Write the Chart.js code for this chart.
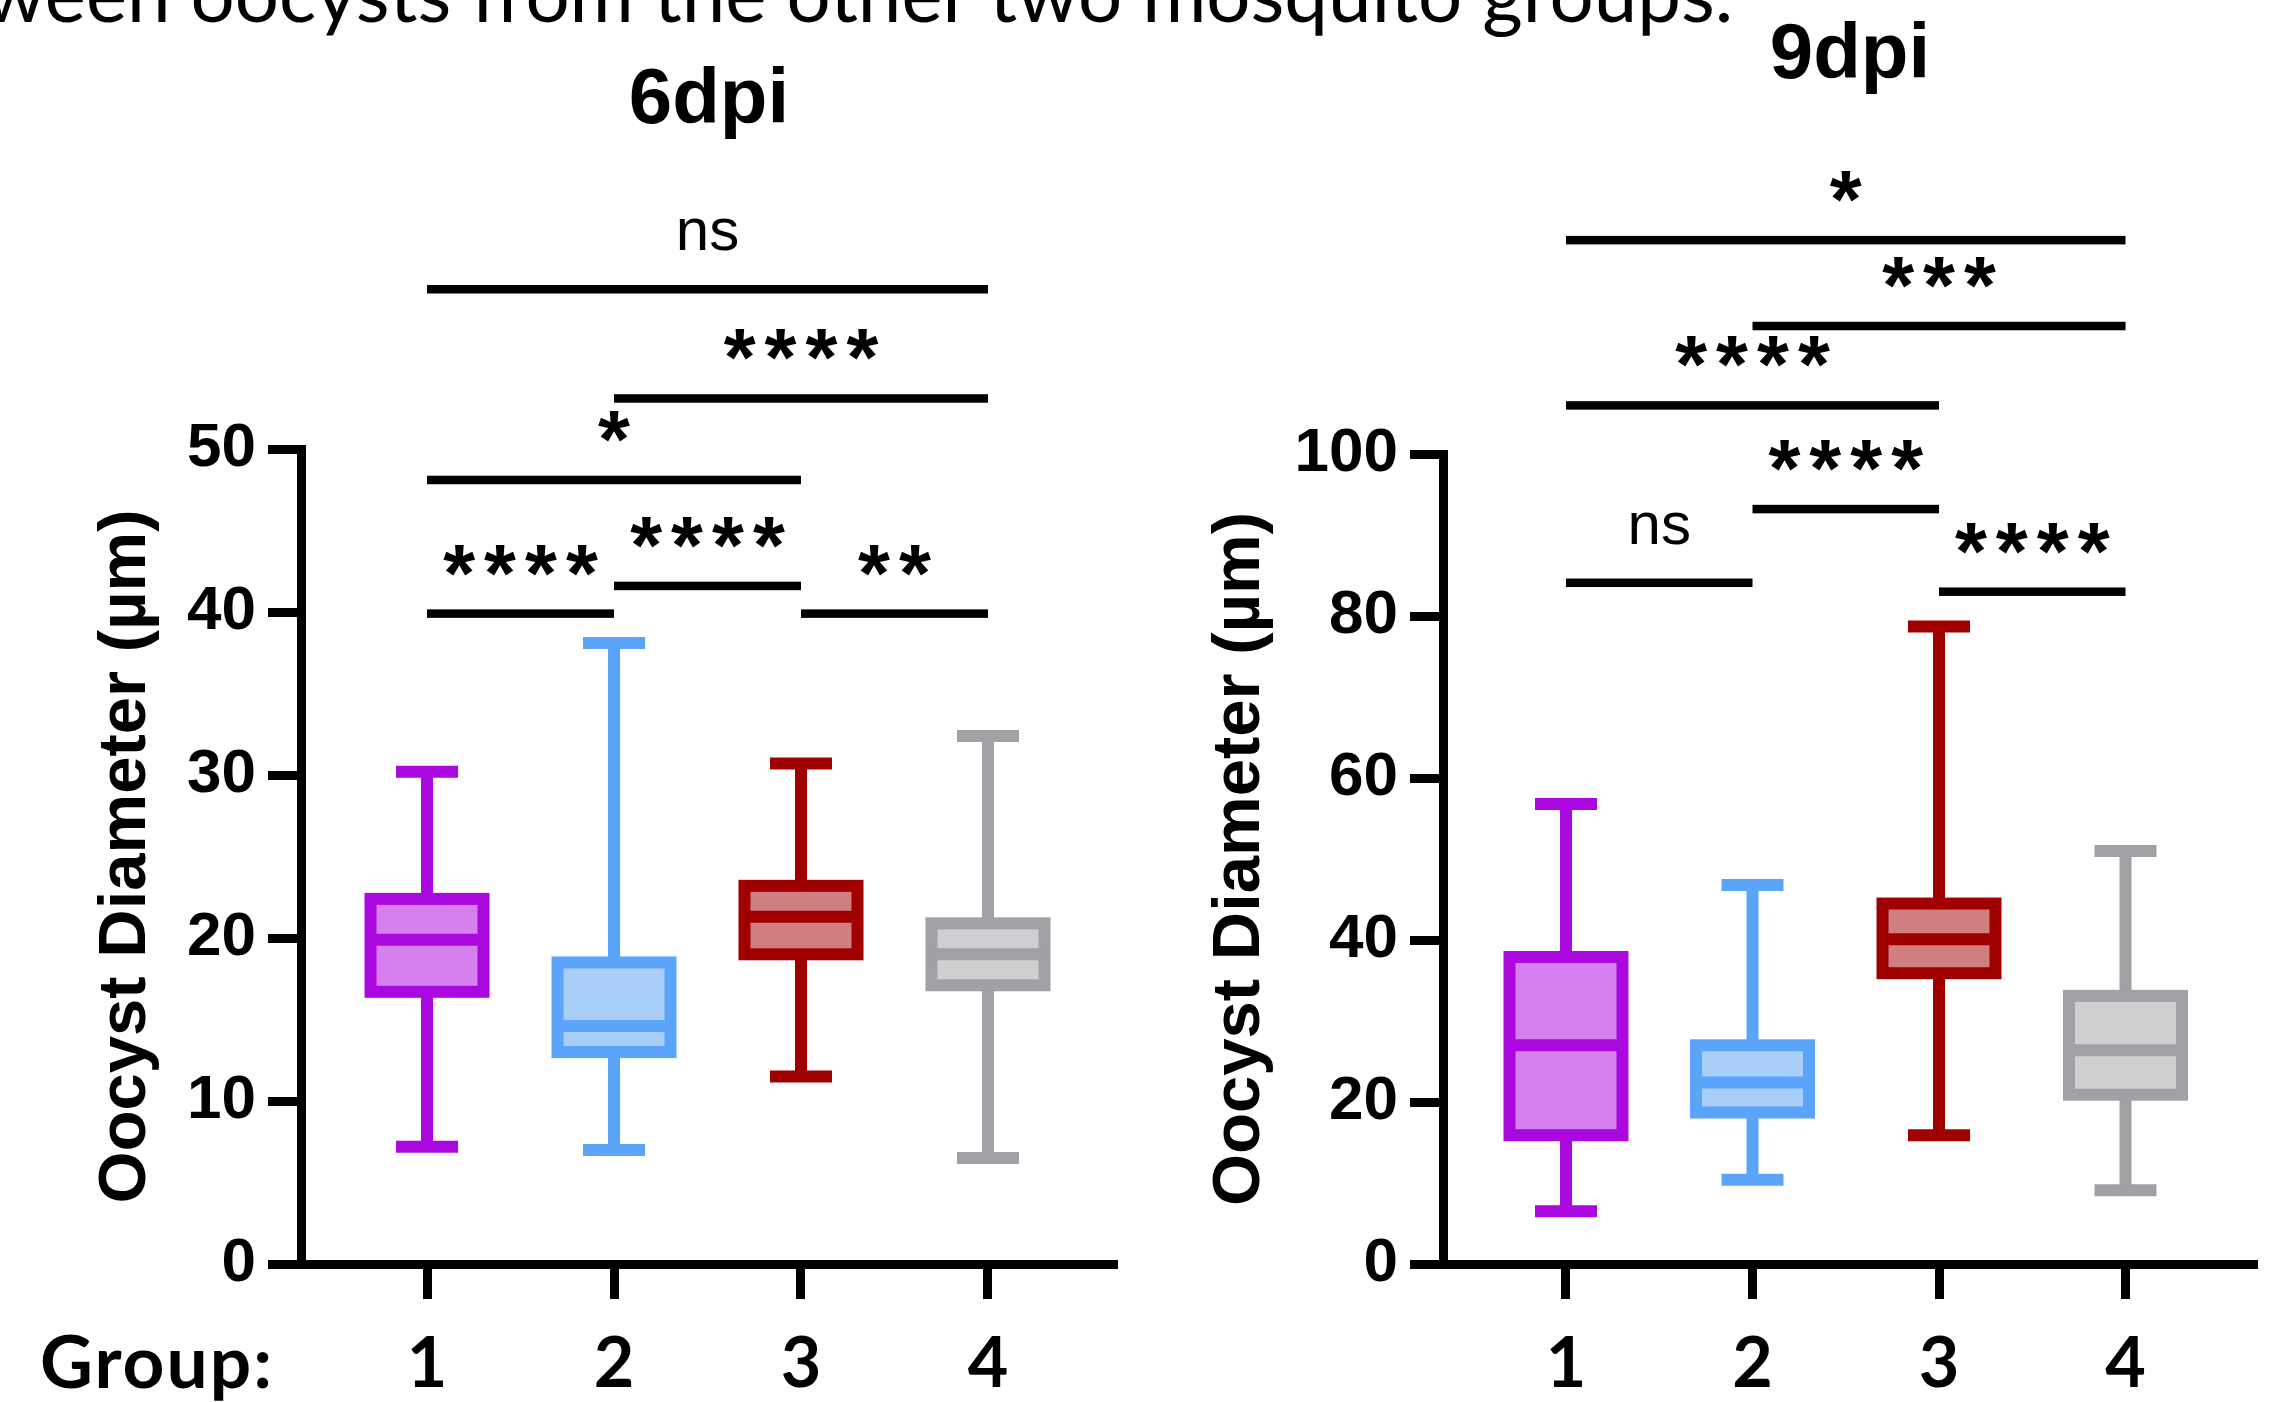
<!DOCTYPE html>
<html>
<head>
<meta charset="utf-8">
<script src="https://cdn.jsdelivr.net/npm/chart.js@4.4.0/dist/chart.umd.min.js"></script>
<style>
  html, body { margin: 0; padding: 0; background: #fff; overflow: hidden; width: 2269px; height: 1402px; }
  #caption { position: absolute; left: -16px; top: -47px; font: 78px Lato, sans-serif; line-height: 78px; white-space: nowrap; color: #000; }
  #c6 { position: absolute; left: 0; top: 0; }
  #c9 { position: absolute; left: 1141px; top: 0; }
</style>
</head>
<body>
<div id="caption">ween oocysts from the other two mosquito groups.</div>
<canvas id="c6" width="1140" height="1402"></canvas>
<canvas id="c9" width="1128" height="1402"></canvas>
<script>
// groups on the x axis
const groups = ["1", "2", "3", "4"];

// 6dpi box plot values (µm)
const min6 = [7.2, 7.0, 11.5, 6.5];
const q1_6 = [16.7, 13.0, 19.0, 17.1];
const med6 = [19.9, 14.6, 21.3, 19.0];
const q3_6 = [22.4, 18.5, 23.2, 20.9];
const max6 = [30.2, 38.1, 30.7, 32.4];

// 6dpi comparisons
const sig6From = [1, 2, 1, 1, 2, 3];
const sig6To = [4, 4, 3, 2, 3, 4];
const sig6Y = [59.8, 53.1, 48.1, 39.9, 41.6, 39.9];
const sig6Label = ["ns", "****", "*", "****", "****", "**"];

// 9dpi box plot values (µm)
const min9 = [6.5, 10.4, 15.9, 9.1];
const q1_9 = [15.9, 18.7, 35.9, 20.9];
const med9 = [27.0, 22.4, 40.1, 26.4];
const q3_9 = [37.9, 27.0, 44.5, 33.1];
const max9 = [56.8, 46.8, 78.7, 51.0];

// 9dpi comparisons
const sig9From = [1, 2, 1, 2, 1, 3];
const sig9To = [4, 4, 3, 3, 2, 4];
const sig9Y = [126.4, 115.8, 106.0, 93.2, 84.1, 83.0];
const sig9Label = ["*", "***", "****", "****", "ns", "****"];

const strokeColors = ["#aa08de", "#5aa5fa", "#a00000", "#a0a0a5"];
const fillColors = ["#d580ee", "#a9cefa", "#cf7f7f", "#cfcfd2"];

// whiskers, box outline and median drawn on top of the floating bars
const boxPlugin = {
  id: "boxes",
  afterDatasetsDraw(chart, args, opts) {
    const ctx = chart.ctx;
    const ys = chart.scales.y;
    const meta = chart.getDatasetMeta(0);
    const line = (x1, y1, x2, y2) => {
      ctx.beginPath();
      ctx.moveTo(x1, y1);
      ctx.lineTo(x2, y2);
      ctx.stroke();
    };
    ctx.save();
    ctx.lineWidth = 12;
    ctx.lineCap = "butt";
    ctx.lineJoin = "miter";
    meta.data.forEach((bar, i) => {
      ctx.strokeStyle = strokeColors[i];
      const top = ys.getPixelForValue(opts.max[i]);
      const bot = ys.getPixelForValue(opts.min[i]);
      const hi = ys.getPixelForValue(opts.q3[i]);
      const lo = ys.getPixelForValue(opts.q1[i]);
      const mid = ys.getPixelForValue(opts.med[i]);
      const half = bar.width / 2;
      line(bar.x, top, bar.x, hi);
      line(bar.x, lo, bar.x, bot);
      line(bar.x - 31, top, bar.x + 31, top);
      line(bar.x - 31, bot, bar.x + 31, bot);
      ctx.strokeRect(bar.x - half, hi, bar.width, lo - hi);
      line(bar.x - half, mid, bar.x + half, mid);
    });
    ctx.restore();
  }
};

// significance bars above the plot
const sigPlugin = {
  id: "sig",
  afterDraw(chart, args, opts) {
    const ctx = chart.ctx;
    const xs = chart.scales.x;
    const ys = chart.scales.y;
    ctx.save();
    ctx.fillStyle = "#000";
    ctx.textAlign = "center";
    ctx.textBaseline = "alphabetic";
    for (let i = 0; i < opts.from.length; i++) {
      const x1 = xs.getPixelForValue(opts.from[i]);
      const x2 = xs.getPixelForValue(opts.to[i]);
      const yp = ys.getPixelForValue(opts.y[i]);
      ctx.fillRect(x1, yp - 4.25, x2 - x1, 8.5);
      const lab = opts.label[i];
      let sp = 0;
      if (lab === "ns") {
        ctx.font = "60px 'Liberation Sans', Arial, sans-serif";
        ctx.letterSpacing = "0px";
      } else {
        ctx.font = "bold 82px 'Liberation Sans', Arial, sans-serif";
        sp = 9;
        ctx.letterSpacing = sp + "px";
      }
      const m = ctx.measureText(lab);
      ctx.fillText(lab, (x1 + x2) / 2 + sp / 2, yp - 38 - m.actualBoundingBoxDescent);
    }
    if (opts.groupText) {
      ctx.letterSpacing = "2px";
      ctx.font = "bold 73px Lato, sans-serif";
      ctx.textAlign = "left";
      ctx.textBaseline = "middle";
      ctx.fillText(opts.groupText, 40, xs.top + 35 + 23 + 42);
    }
    ctx.restore();
  }
};

function makeChart(id, title, mins, q1s, meds, q3s, maxs, sig, yMax, yStep, xMin, xMax, yWidth, padRight, titleTop, titleBottom, groupText) {
  const ctx = document.getElementById(id).getContext("2d");
  const data = {
    datasets: [{
      type: "bar",
      data: groups.map((g, i) => ({ x: i + 1, y: [q1s[i], q3s[i]] })),
      backgroundColor: fillColors,
      borderWidth: 0,
      barThickness: 113
    }]
  };
  const config = {
    type: "bar",
    data: data,
    options: {
      responsive: false,
      animation: false,
      devicePixelRatio: 1,
      layout: { padding: { left: 0, right: padRight, top: 0, bottom: 0 } },
      scales: {
        x: {
          type: "linear",
          min: xMin,
          max: xMax,
          offset: false,
          afterBuildTicks: (s) => { s.ticks = groups.map((g, i) => ({ value: i + 1 })); },
          afterFit: (s) => { s.height = 138; },
          grid: { offset: false, drawOnChartArea: false, tickLength: 35, tickWidth: 9, tickColor: "#000" },
          border: { width: 9, color: "#000" },
          ticks: {
            padding: 23,
            color: "#000",
            font: { family: "Lato", weight: "bold", size: 70 },
            callback: (v) => groups[v - 1]
          }
        },
        y: {
          min: 0,
          max: yMax,
          afterFit: (s) => { s.width = yWidth; },
          grid: { drawOnChartArea: false, tickLength: 33, tickWidth: 9, tickColor: "#000" },
          border: { width: 9, color: "#000" },
          ticks: {
            stepSize: yStep,
            padding: 12,
            color: "#000",
            font: { family: "'Liberation Sans', Arial", weight: "bold", size: 62 }
          },
          title: {
            display: true,
            text: "Oocyst Diameter (µm)",
            color: "#000",
            padding: { top: yWidth === 301 ? 93 : 66, bottom: 0 },
            font: { family: "'Liberation Sans', Arial", weight: "bold", size: 67, lineHeight: 1 }
          }
        }
      },
      plugins: {
        legend: { display: false },
        tooltip: { enabled: false },
        title: {
          display: true,
          text: title,
          fullSize: false,
          color: "#000",
          padding: { top: titleTop, bottom: titleBottom },
          font: { family: "'Liberation Sans', Arial", weight: "bold", size: 78, lineHeight: 1 }
        },
        boxes: { min: mins, q1: q1s, med: meds, q3: q3s, max: maxs },
        sig: Object.assign({}, sig, { groupText: groupText })
      }
    },
    plugins: [boxPlugin, sigPlugin]
  };
  return new Chart(ctx, config);
}

makeChart("c6", "6dpi", min6, q1_6, med6, q3_6, max6,
  { from: sig6From, to: sig6To, y: sig6Y, label: sig6Label },
  50, 10, 0.326, 4.69, 301, 23, 62, 309, "Group:");

makeChart("c9", "9dpi", min9, q1_9, med9, q3_9, max9,
  { from: sig9From, to: sig9To, y: sig9Y, label: sig9Label },
  100, 20, 0.3405, 4.705, 302, 12, 17, 359, null);
</script>
</body>
</html>
